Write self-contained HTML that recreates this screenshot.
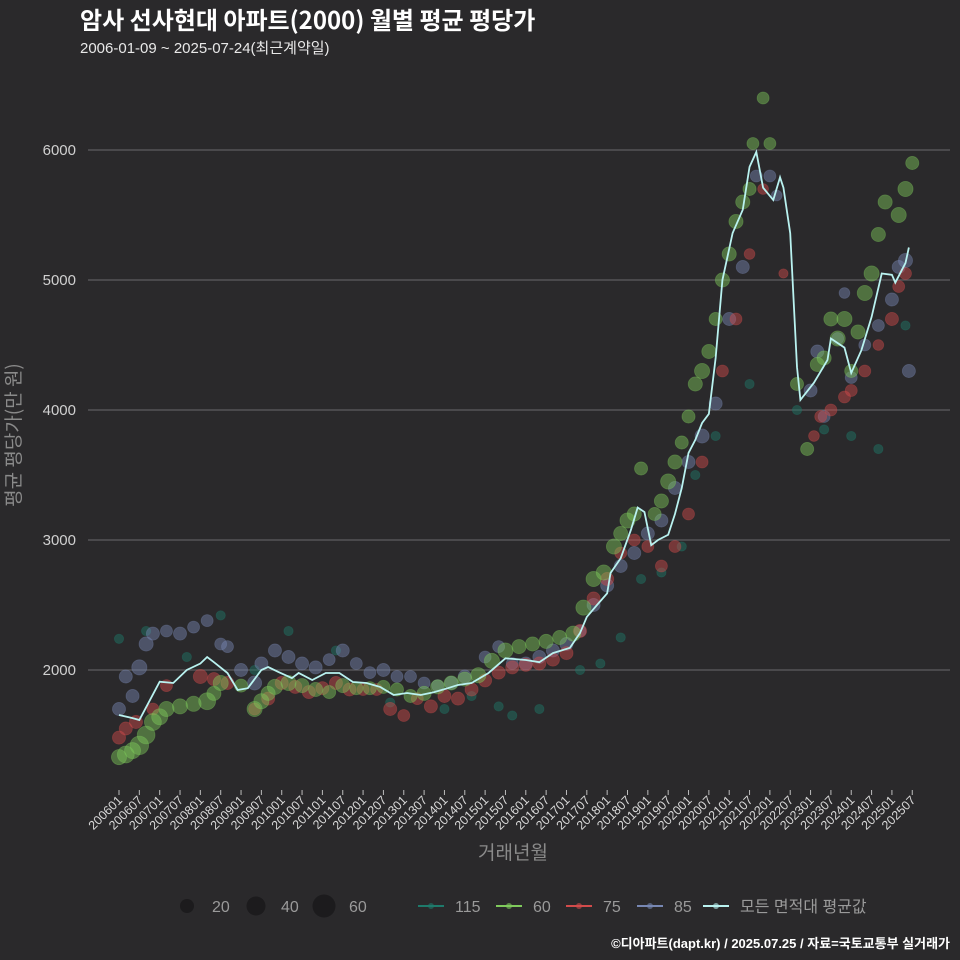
<!DOCTYPE html>
<html><head><meta charset="utf-8"><style>
html,body{margin:0;padding:0;background:#2a292b;}
svg{display:block;font-family:"Liberation Sans","Noto Sans CJK KR",sans-serif;}
</style></head><body>
<svg id="chart" width="960" height="960" viewBox="0 0 960 960">
<rect x="0" y="0" width="960" height="960" fill="#2a292b"/>
<text x="80" y="29" fill="#ffffff" font-size="24" font-weight="bold" font-family="'Noto Sans CJK KR',sans-serif">암사 선사현대 아파트(2000) 월별 평균 평당가</text>
<text x="80" y="53" fill="#e8e8e8" font-size="15">2006-01-09 ~ 2025-07-24(최근계약일)</text>
<g id="grid"></g>
<g id="yticks"></g>
<g id="xticks"></g>
<g id="points"></g>
<g id="line"></g>
<text transform="translate(20,435) rotate(-90)" text-anchor="middle" fill="#8a8a8a" font-size="19" font-family="'Noto Sans CJK KR',sans-serif">평균 평당가(만 원)</text>
<text x="513" y="859" text-anchor="middle" fill="#8a8a8a" font-size="19">거래년월</text>
<g id="legend"></g>
<text x="950" y="948" text-anchor="end" fill="#ffffff" font-size="13" font-weight="bold">©디아파트(dapt.kr) / 2025.07.25 / 자료=국토교통부 실거래가</text>
</svg>
<script>
const yTicks=[2000,3000,4000,5000,6000];
const xTickLabels=[];for(let yr=2006;yr<=2025;yr++){xTickLabels.push(yr+'01');xTickLabels.push(yr+'07');}
const meanMonths=[0,4,6,12,16,20,24,26,28,32,35,38,42,44,47,51,53,57,61,65,69,73,77,81,85,89,93,97,100,104,109,114,120,124,128,133,136,138,141,144,145,148,151,153,155,157,159,162,164,166,168,170,172,174,176,178,181,184,186,188,190,193,195,196,198,200,201,205,209,210,214,216,219,222,225,228,229,232,233];
const meanValues=[1654,1630,1615,1910,1900,2000,2050,2100,2060,1977,1846,1860,2000,2023,1985,1938,1977,1923,1977,1977,1908,1900,1870,1808,1823,1808,1830,1860,1885,1900,1977,2090,2077,2060,2130,2170,2285,2408,2500,2590,2746,2860,3077,3250,3215,2960,3000,3040,3200,3400,3670,3770,3900,3970,4400,5000,5360,5540,5870,5985,5710,5615,5790,5710,5360,4330,4077,4210,4385,4550,4480,4285,4460,4715,5050,5040,4980,5130,5250];
const g60Month=[0,2,4,6,8,10,12,14,18,22,26,28,30,36,40,42,44,46,50,54,58,62,66,70,74,78,82,86,90,94,98,102,106,110,114,118,122,126,130,134,137,140,143,146,148,150,152,154,158,160,162,164,166,168,170,172,174,176,178,180,182,184,186,187,190,192,200,203,206,208,210,212,214,216,218,220,222,224,226,230,232,234];
const g60Value=[1330,1350,1380,1420,1500,1600,1640,1700,1720,1740,1760,1820,1900,1880,1700,1760,1820,1870,1900,1880,1850,1830,1880,1860,1860,1870,1850,1800,1820,1870,1900,1930,1960,2070,2150,2180,2200,2220,2250,2280,2480,2700,2750,2950,3050,3150,3200,3550,3200,3300,3450,3600,3750,3950,4200,4300,4450,4700,5000,5200,5450,5600,5700,6050,6400,6050,4200,3700,4350,4400,4700,4550,4700,4300,4600,4900,5050,5350,5600,5500,5700,5900];
const g60Size=[40,50,45,60,55,50,45,40,40,40,50,35,40,30,40,40,35,40,40,35,35,30,35,30,30,30,30,30,35,35,35,35,40,40,40,35,35,35,35,40,40,40,40,40,35,40,35,30,30,35,40,35,30,30,35,40,35,30,35,35,35,35,30,25,25,25,30,30,35,35,35,40,40,30,35,40,40,35,35,40,40,30];
const g75Month=[0,2,5,10,14,24,28,32,40,44,48,52,56,60,64,68,72,76,80,84,88,92,96,100,104,108,112,116,120,124,128,132,136,140,144,148,152,156,160,164,168,172,178,182,186,190,196,205,207,210,214,216,220,224,228,230,232];
const g75Value=[1480,1550,1600,1700,1880,1950,1930,1900,1700,1780,1900,1870,1830,1860,1900,1850,1850,1850,1700,1650,1780,1720,1800,1780,1850,1920,1980,2020,2040,2050,2080,2130,2300,2550,2700,2900,3000,2950,2800,2950,3200,3600,4300,4700,5200,5700,5050,3800,3950,4000,4100,4150,4300,4500,4700,4950,5050];
const g75Size=[30,30,30,25,25,35,30,30,25,30,30,30,30,30,30,30,25,25,30,25,25,30,30,30,30,30,30,30,30,30,30,30,30,30,30,25,25,25,25,25,25,25,25,25,20,20,15,20,25,25,25,25,25,20,30,25,25];
const g85Month=[0,2,4,6,8,10,14,18,22,26,30,32,36,40,42,46,50,54,58,62,66,70,74,78,82,86,90,94,98,102,108,112,116,120,124,128,132,136,140,144,148,152,156,160,164,168,172,176,180,184,188,192,194,204,206,208,212,214,216,220,224,228,230,232,233];
const g85Value=[1700,1950,1800,2020,2200,2280,2300,2280,2330,2380,2200,2180,2000,1900,2050,2150,2100,2050,2020,2080,2150,2050,1980,2000,1950,1950,1900,1880,1900,1950,2100,2180,2050,2050,2100,2150,2200,2300,2500,2650,2800,2900,3050,3150,3400,3600,3800,4050,4700,5100,5800,5800,5650,4150,4450,3950,4550,4900,4250,4500,4650,4850,5100,5150,4300];
const g85Size=[30,30,30,40,35,30,25,30,25,25,25,25,30,35,30,30,30,30,30,25,30,25,25,30,25,25,25,25,30,30,25,25,25,30,30,30,30,25,30,30,30,30,30,30,30,30,35,30,30,30,25,25,20,30,30,25,25,20,25,25,25,30,30,35,30];
const g115Month=[0,8,20,30,40,50,64,80,96,104,112,116,124,136,142,148,154,160,166,170,176,186,200,208,216,224,232];
const g115Value=[2240,2300,2100,2420,2000,2300,2150,1750,1700,1800,1720,1650,1700,2000,2050,2250,2700,2750,2950,3500,3800,4200,4000,3850,3800,3700,4650];
const g115Size=[15,15,15,15,15,15,15,15,15,15,15,15,15,15,15,15,15,15,15,15,15,15,15,15,15,15,15];
const sizeLegend=[20,40,60];

const NS='http://www.w3.org/2000/svg';
const X0=119,PXM=3.39,PLOTL=88,PLOTR=950;
function xs(m){return X0+m*PXM;}
function ys(v){return 670-(v-2000)*0.13;}
function rs(s){return 1.2*Math.sqrt(s);}
function mk(tag,attrs,parent){const e=document.createElementNS(NS,tag);for(const k in attrs)e.setAttribute(k,attrs[k]);parent.appendChild(e);return e;}

const grid=document.getElementById('grid'),yt=document.getElementById('yticks');
yTicks.forEach(v=>{
  const l=mk('line',{x1:PLOTL,x2:PLOTR,y1:ys(v),y2:ys(v),stroke:'#5e5d60','stroke-width':1.3},grid);
  
  
  const t=mk('text',{x:76,y:ys(v)+5,'text-anchor':'end',fill:'#d0d0d0','font-size':15},yt);
  t.textContent=v;
  
  
});
const xt=document.getElementById('xticks');
xTickLabels.forEach((lab,i)=>{
  const x=xs(i*6);
  const tk=mk('line',{x1:x,x2:x,y1:790,y2:795,stroke:'#bbbbbb','stroke-width':1},xt);
  
  
  const t=mk('text',{transform:'translate('+(x+4)+',801) rotate(-45)','text-anchor':'end',fill:'#d8d8d8','font-size':12.5},xt);
  t.textContent=lab;
  
  
});
const pts=document.getElementById('points');
function series(ms,vs,ss,color,name){
  ms.forEach((m,i)=>{
    const c=mk('circle',{cx:xs(m),cy:ys(vs[i]),r:rs(ss[i]),fill:color,'fill-opacity':0.45,stroke:color,'stroke-opacity':0.35,'stroke-width':0.8},pts);
    
    
  });
}
series(g115Month,g115Value,g115Size,'#1e7a6b','115');
series(g85Month,g85Value,g85Size,'#7787b3','85');
series(g75Month,g75Value,g75Size,'#d24b4b','75');
series(g60Month,g60Value,g60Size,'#7fca5c','60');
const ln=document.getElementById('line');
const p=mk('polyline',{points:meanMonths.map((m,i)=>xs(m)+','+ys(meanValues[i])).join(' '),fill:'none',stroke:'#b9f2f0','stroke-width':1.8},ln);



const lg=document.getElementById('legend');
sizeLegend.forEach((s,i)=>{
  const cx=[187,256,324][i];
  const c=mk('circle',{cx:cx,cy:906,r:[7,9.5,11.5][i],fill:'#1c1b1d'},lg);
  
  
  const t=mk('text',{x:cx+25,y:912,fill:'#9a9a9a','font-size':16},lg);
  t.textContent=s;
  
  
});
const lgItems=[['115','#1e7a6b',418],['60','#7fca5c',496],['75','#d24b4b',566],['85','#7787b3',637],['모든 면적대 평균값','#b9f2f0',703]];
lgItems.forEach(it=>{
  const g=mk('g',{},lg);
  
  
  mk('line',{x1:it[2],x2:it[2]+26,y1:906,y2:906,stroke:it[1],'stroke-width':2},g);
  mk('circle',{cx:it[2]+13,cy:906,r:3,fill:it[1],'fill-opacity':0.6},g);
  const t=mk('text',{x:it[2]+37,y:912,fill:'#9a9a9a','font-size':16},g);
  t.textContent=it[0];
});
</script>
</body></html>
